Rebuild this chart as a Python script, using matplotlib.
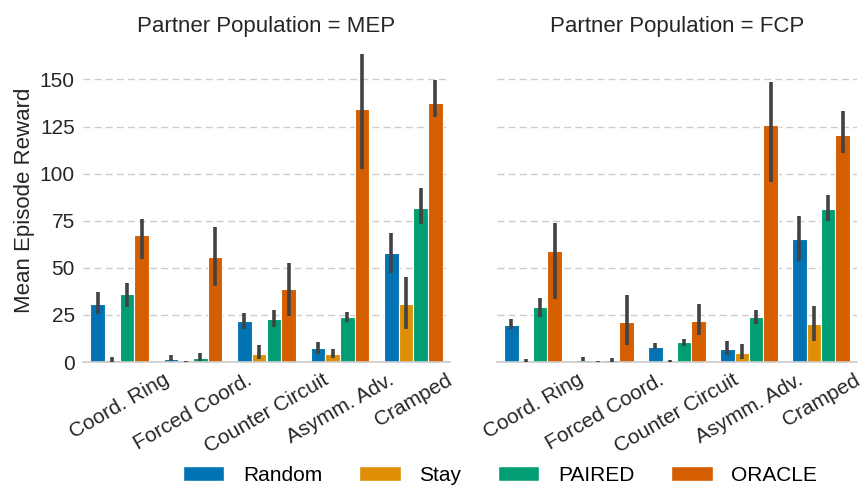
import matplotlib
matplotlib.use("Agg")
import matplotlib.pyplot as plt
import numpy as np
from matplotlib.patches import Patch

plt.rcParams['font.family'] = ['Liberation Sans', 'DejaVu Sans']

layouts = ["Coord. Ring", "Forced Coord.", "Counter Circuit", "Asymm. Adv.", "Cramped"]
methods = ["Random", "Stay", "PAIRED", "ORACLE"]
colors = ["#0173B2", "#DE8F05", "#029E73", "#D55E00"]
panels = ["MEP", "FCP"]

# mean values [method][layout]
mep_mean = {
    "Random": [31.0, 1.8, 21.6, 7.3, 57.6],
    "Stay":   [1.2, 0.1, 4.4, 4.1, 30.7],
    "PAIRED": [36.3, 2.1, 23.0, 23.8, 81.6],
    "ORACLE": [67.2, 55.5, 38.7, 134.4, 137.6],
}
mep_lo = {
    "Random": [25.4, 0.5, 17.7, 4.4, 47.3],
    "Stay":   [0.0, 0.0, 1.8, 2.1, 17.7],
    "PAIRED": [29.3, 0.5, 18.6, 21.3, 73.0],
    "ORACLE": [54.6, 40.4, 24.5, 102.3, 129.8],
}
mep_hi = {
    "Random": [36.9, 3.5, 26.0, 10.6, 68.3],
    "Stay":   [2.7, 0.3, 8.9, 7.1, 45.2],
    "PAIRED": [42.0, 4.8, 27.8, 26.6, 92.6],
    "ORACLE": [75.7, 71.5, 52.7, 163.7, 149.8],
}
fcp_mean = {
    "Random": [19.9, 1.2, 8.2, 6.7, 65.4],
    "Stay":   [0.4, 0.1, 0.2, 4.6, 20.0],
    "PAIRED": [29.1, 0.9, 10.5, 23.8, 81.2],
    "ORACLE": [58.9, 21.3, 22.0, 125.9, 120.4],
}
fcp_lo = {
    "Random": [17.7, 0.5, 6.7, 3.5, 53.7],
    "Stay":   [0.0, 0.0, 0.0, 1.6, 11.0],
    "PAIRED": [23.9, 0.2, 8.5, 20.0, 75.0],
    "ORACLE": [33.3, 8.9, 14.5, 95.7, 110.8],
}
fcp_hi = {
    "Random": [23.0, 2.7, 10.3, 11.2, 77.5],
    "Stay":   [1.8, 0.3, 0.9, 9.4, 29.8],
    "PAIRED": [34.0, 2.1, 12.4, 27.8, 88.7],
    "ORACLE": [73.9, 35.5, 31.0, 148.9, 133.0],
}

data = {"MEP": (mep_mean, mep_lo, mep_hi), "FCP": (fcp_mean, fcp_lo, fcp_hi)}

fig = plt.figure(figsize=(8.65, 4.9), dpi=100)
ax1 = fig.add_axes([83/865, 1-362/490, 367/865, 324/490])
ax2 = fig.add_axes([497/865, 1-362/490, 360/865, 324/490], sharey=ax1)

x = np.arange(len(layouts))
w = 0.2
for ax, pname in zip([ax1, ax2], panels):
    mean, lo, hi = data[pname]
    for i, m in enumerate(methods):
        pos = x - 0.3 + i * w
        ax.bar(pos, mean[m], width=w, color=colors[i], edgecolor="white",
               linewidth=0.8, zorder=2)
        ax.vlines(pos, lo[m], hi[m], color="#424242", linewidth=2.6, zorder=3)
    ax.set_xticks(x)
    ax.set_xticklabels(layouts, rotation=30, ha="center", fontsize=15, color="#262626")
    ax.set_xlim(-0.5, len(layouts) - 0.5)
    ax.set_title(f"Partner Population = {pname}", fontsize=16, color="#262626", pad=4)
    ax.yaxis.grid(True, linestyle=(0, (5, 3)), color="#cccccc", linewidth=1, zorder=0)
    ax.xaxis.grid(False)
    ax.set_axisbelow(True)
    for s in ["left", "top", "right"]:
        ax.spines[s].set_visible(False)
    ax.spines["bottom"].set_color("#cccccc")
    ax.spines["bottom"].set_linewidth(1.2)
    ax.tick_params(axis="both", length=0, pad=6)
    ax.tick_params(axis="y", labelsize=15, colors="#262626")

ax1.set_ylim(0, 172)
ax1.set_yticks([0, 25, 50, 75, 100, 125, 150])
ax1.set_ylabel("Mean Episode Reward", fontsize=16, color="#262626", labelpad=3)
ax2.tick_params(axis="y", labelleft=False)

handles = [Patch(facecolor=c, edgecolor="white", label=m) for c, m in zip(colors, methods)]
fig.legend(handles=handles, loc="lower center", bbox_to_anchor=(500/865, -0.028), ncol=4,
           frameon=False, fontsize=15, handlelength=2.0, handleheight=0.75,
           columnspacing=1.75, handletextpad=0.9)

fig.savefig("out.png", dpi=100)
